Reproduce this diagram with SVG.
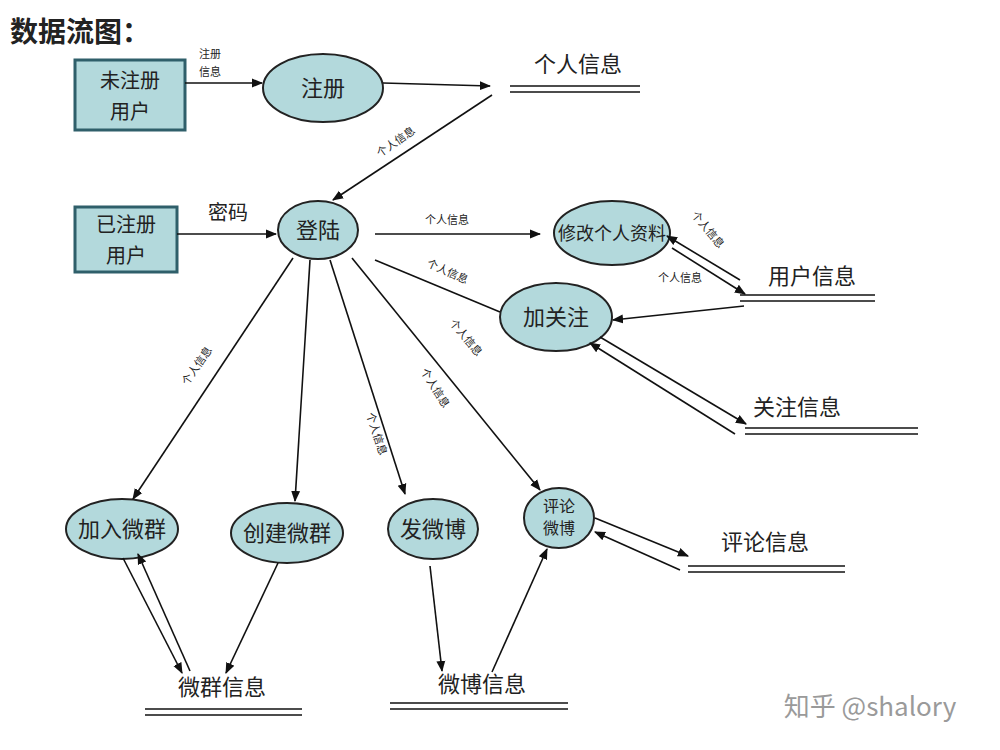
<svg xmlns="http://www.w3.org/2000/svg" width="1000" height="750" viewBox="0 0 1000 750">
<style>
text{font-family:"Noto Sans CJK SC","Liberation Sans",sans-serif;fill:#222}
.n{fill:#b3d9dc;stroke:#222;stroke-width:2}
.b{fill:#b3d9dc;stroke:#2f5f6a;stroke-width:3}
.t{font-size:22px;text-anchor:middle}
.bt{font-size:20px;text-anchor:middle}
.s{font-size:11px;text-anchor:middle}
.c line{stroke:#111;stroke-width:1.6}
.a{marker-end:url(#ah)}
.st line{stroke:#111;stroke-width:1.5}
</style>
<defs><marker id="ah" viewBox="0 0 10 10" refX="9" refY="5" markerWidth="7" markerHeight="7" orient="auto"><path d="M0,1 L10,5 L0,9z" fill="#111"/></marker></defs>
<rect width="1000" height="750" fill="#fff"/>
<text x="10" y="42" style="font-size:28px;font-weight:bold">数据流图：</text>
<g id="n1"><rect class="b" x="75" y="60" width="110" height="70"/><text class="bt" x="130" y="88">未注册</text><text class="bt" x="130" y="119">用户</text></g>
<g id="n2"><ellipse class="n" cx="323" cy="88" rx="60" ry="34"/><text class="t" x="323" y="96">注册</text></g>
<g id="s1" class="st"><text class="t" x="578" y="72">个人信息</text><line x1="510" y1="86" x2="640" y2="86"/><line x1="510" y1="92" x2="640" y2="92"/></g>
<g id="n3"><rect class="b" x="75" y="207" width="102" height="65"/><text class="bt" x="126" y="232">已注册</text><text class="bt" x="126" y="263">用户</text></g>
<g id="n4"><ellipse class="n" cx="318" cy="230" rx="40" ry="29"/><text class="t" x="318" y="238">登陆</text></g>
<g id="n5"><ellipse class="n" cx="612" cy="233" rx="58" ry="32"/><text class="t" x="612" y="240" style="font-size:18px">修改个人资料</text></g>
<g id="s2" class="st"><text class="t" x="812" y="284">用户信息</text><line x1="740" y1="295" x2="875" y2="295"/><line x1="740" y1="301" x2="875" y2="301"/></g>
<g id="n6"><ellipse class="n" cx="556" cy="317" rx="56" ry="34"/><text class="t" x="556" y="325">加关注</text></g>
<g id="s3" class="st"><text class="t" x="797" y="415">关注信息</text><line x1="745" y1="428" x2="918" y2="428"/><line x1="745" y1="434" x2="918" y2="434"/></g>
<g id="n7"><ellipse class="n" cx="122" cy="529" rx="56" ry="30"/><text class="t" x="122" y="537">加入微群</text></g>
<g id="n8"><ellipse class="n" cx="287" cy="533" rx="56" ry="30"/><text class="t" x="287" y="541">创建微群</text></g>
<g id="n9"><ellipse class="n" cx="433" cy="529" rx="45" ry="30"/><text class="t" x="433" y="537">发微博</text></g>
<g id="n10"><ellipse class="n" cx="559" cy="518" rx="35" ry="30"/><text class="t" x="559" y="512" style="font-size:16px">评论</text><text class="t" x="559" y="534" style="font-size:16px">微博</text></g>
<g id="s4" class="st"><text class="t" x="765" y="550">评论信息</text><line x1="688" y1="566" x2="845" y2="566"/><line x1="688" y1="572" x2="845" y2="572"/></g>
<g id="s5" class="st"><text class="t" x="222" y="695">微群信息</text><line x1="145" y1="709" x2="302" y2="709"/><line x1="145" y1="715" x2="302" y2="715"/></g>
<g id="s6" class="st"><text class="t" x="482" y="692">微博信息</text><line x1="390" y1="703" x2="568" y2="703"/><line x1="390" y1="709" x2="568" y2="709"/></g>
<g id="connectors" class="c">
<line class="a" x1="185" y1="83" x2="262" y2="83"/>
<line class="a" x1="383" y1="83" x2="490" y2="86"/>
<line class="a" x1="492" y1="95" x2="333" y2="200"/>
<line class="a" x1="177" y1="234" x2="276" y2="234"/>
<line class="a" x1="375" y1="234" x2="540" y2="234"/>
<line x1="375" y1="260" x2="500" y2="312"/>
<line class="a" x1="744" y1="306" x2="613" y2="320"/>
<line class="a" x1="740" y1="280" x2="667" y2="236"/>
<line class="a" x1="672" y1="248" x2="745" y2="294"/>
<line class="a" x1="600" y1="337" x2="746" y2="424"/>
<line class="a" x1="735" y1="434" x2="590" y2="343"/>
<line class="a" x1="293" y1="258" x2="133" y2="499"/>
<line class="a" x1="310" y1="260" x2="295" y2="501"/>
<line class="a" x1="330" y1="260" x2="405" y2="494"/>
<line class="a" x1="352" y1="258" x2="540" y2="490"/>
<line class="a" x1="123" y1="558" x2="182" y2="673"/>
<line class="a" x1="190" y1="671" x2="138" y2="554"/>
<line class="a" x1="278" y1="563" x2="226" y2="673"/>
<line class="a" x1="430" y1="566" x2="442" y2="671"/>
<line class="a" x1="492" y1="672" x2="547" y2="549"/>
<line class="a" x1="595" y1="518" x2="688" y2="556"/>
<line class="a" x1="680" y1="570" x2="595" y2="532"/>
</g>
<g id="labels">
<text class="s" x="210" y="58">注册</text><text class="s" x="210" y="76">信息</text>
<text class="s" transform="translate(398,145) rotate(-35)">个人信息</text>
<text class="t" x="228" y="220" style="font-size:20px">密码</text>
<text class="s" x="447" y="224">个人信息</text>
<text class="s" transform="translate(446,275) rotate(24)">个人信息</text>
<text class="s" transform="translate(705,232) rotate(50)">个人信息</text>
<text class="s" x="680" y="282">个人信息</text>
<text class="s" transform="translate(463,340) rotate(50)">个人信息</text>
<text class="s" transform="translate(432,390) rotate(58)">个人信息</text>
<text class="s" transform="translate(200,368) rotate(-55)">个人信息</text>
<text class="s" transform="translate(373,435) rotate(72)">个人信息</text>
</g>
<text x="870" y="716" style="font-size:26px;fill:#9a9a9a;text-anchor:middle">知乎 @shalory</text>
</svg>
